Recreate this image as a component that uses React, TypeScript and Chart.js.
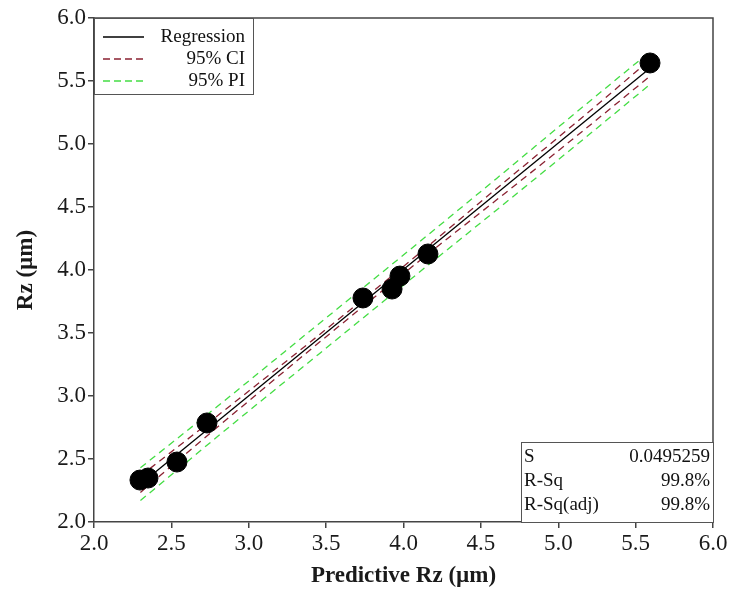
import React, { useEffect, useRef } from "react";
import { Chart, registerables } from "chart.js";

Chart.register(...registerables);

// Observed data: predictive Rz (x) vs measured Rz (y)
const predictedRz = [2.297, 2.349, 2.536, 2.73, 3.738, 3.926, 3.977, 4.158, 5.593];
const measuredRz = [2.333, 2.349, 2.476, 2.786, 3.778, 3.849, 3.952, 4.127, 5.643];

// Regression line
const fitX = [2.3, 5.6];
const fitY = [2.3, 5.61];

// Confidence and prediction bands
const bandX = [2.3, 2.8, 3.45, 4.1, 4.6, 5.1, 5.6];
const ciUpper = [2.365, 2.845, 3.48, 4.13, 4.645, 5.155, 5.675];
const ciLower = [2.235, 2.755, 3.42, 4.07, 4.555, 5.045, 5.545];
const piUpper = [2.43, 2.92, 3.57, 4.22, 4.725, 5.235, 5.74];
const piLower = [2.17, 2.68, 3.33, 3.98, 4.475, 4.975, 5.48];

// Axis ticks
const xTicks = [2.0, 2.5, 3.0, 3.5, 4.0, 4.5, 5.0, 5.5, 6.0];
const yTicks = [2.0, 2.5, 3.0, 3.5, 4.0, 4.5, 5.0, 5.5, 6.0];

// Legend and statistics
const legendLabels = ["Regression", "95% CI", "95% PI"];
const statNames = ["S", "R-Sq", "R-Sq(adj)"];
const statValues = ["0.0495259", "99.8%", "99.8%"];

const SERIF = '"Liberation Serif", "Times New Roman", serif';
const CI_COLOR = "#8b2232";
const PI_COLOR = "#44dd44";

const pts = (xs: number[], ys: number[]) => xs.map((x, i) => ({ x, y: ys[i] }));

const overlayPlugin = {
  id: "overlay",
  afterDraw(chart: any) {
    const { ctx, chartArea } = chart;
    const { left, top, right, bottom } = chartArea;
    ctx.save();
    // frame (top & right)
    ctx.strokeStyle = "#444";
    ctx.lineWidth = 1.5;
    ctx.beginPath();
    ctx.moveTo(left, top);
    ctx.lineTo(right, top);
    ctx.lineTo(right, bottom);
    ctx.stroke();

    // legend box
    const lx = left, ly = top, lw = 159, lh = 76;
    ctx.fillStyle = "#fff";
    ctx.fillRect(lx, ly, lw, lh);
    ctx.strokeStyle = "#555";
    ctx.lineWidth = 1;
    ctx.strokeRect(lx + 0.5, ly + 0.5, lw, lh);
    const colors = ["#000", CI_COLOR, PI_COLOR];
    const dashes = [[], [7, 4], [7, 4]];
    ctx.font = `19px ${SERIF}`;
    ctx.textBaseline = "middle";
    ctx.textAlign = "right";
    legendLabels.forEach((lab, i) => {
      const yy = ly + 19 + i * 22;
      ctx.strokeStyle = colors[i];
      ctx.lineWidth = 1.3;
      ctx.setLineDash(dashes[i]);
      ctx.beginPath();
      ctx.moveTo(lx + 9, yy);
      ctx.lineTo(lx + 50, yy);
      ctx.stroke();
      ctx.setLineDash([]);
      ctx.fillStyle = "#111";
      ctx.fillText(lab, lx + lw - 8, yy);
    });

    // statistics box
    const sw = 192, sh = 80;
    const sx = right - sw, sy = bottom - sh;
    ctx.fillStyle = "#fff";
    ctx.fillRect(sx, sy, sw, sh);
    ctx.strokeStyle = "#555";
    ctx.lineWidth = 1;
    ctx.strokeRect(sx + 0.5, sy + 0.5, sw, sh);
    ctx.font = `19px ${SERIF}`;
    ctx.fillStyle = "#111";
    statNames.forEach((n, i) => {
      const yy = sy + 15 + i * 24;
      ctx.textAlign = "left";
      ctx.fillText(n, sx + 3, yy);
      ctx.textAlign = "right";
      ctx.fillText(statValues[i], right - 3, yy);
    });
    ctx.restore();
  },
};

export default function App() {
  const ref = useRef<HTMLCanvasElement>(null);
  useEffect(() => {
    if (!ref.current) return;
    const chart = new Chart(ref.current, {
      type: "scatter",
      data: {
        datasets: [
          {
            label: "Observed",
            data: pts(predictedRz, measuredRz),
            backgroundColor: "#000",
            borderColor: "#000",
            pointRadius: 10,
            showLine: false,
          },
          {
            label: "Regression",
            data: pts(fitX, fitY),
            showLine: true,
            borderColor: "#000",
            borderWidth: 1.3,
            pointRadius: 0,
          },
          {
            label: "95% CI upper",
            data: pts(bandX, ciUpper),
            showLine: true,
            borderColor: CI_COLOR,
            borderWidth: 1.3,
            borderDash: [7, 5],
            pointRadius: 0,
            cubicInterpolationMode: "monotone",
          },
          {
            label: "95% CI lower",
            data: pts(bandX, ciLower),
            showLine: true,
            borderColor: CI_COLOR,
            borderWidth: 1.3,
            borderDash: [7, 5],
            pointRadius: 0,
            cubicInterpolationMode: "monotone",
          },
          {
            label: "95% PI upper",
            data: pts(bandX, piUpper),
            showLine: true,
            borderColor: PI_COLOR,
            borderWidth: 1.3,
            borderDash: [7, 5],
            pointRadius: 0,
            cubicInterpolationMode: "monotone",
          },
          {
            label: "95% PI lower",
            data: pts(bandX, piLower),
            showLine: true,
            borderColor: PI_COLOR,
            borderWidth: 1.3,
            borderDash: [7, 5],
            pointRadius: 0,
            cubicInterpolationMode: "monotone",
          },
        ],
      },
      options: {
        animation: false,
        responsive: false,
        maintainAspectRatio: false,
        layout: { padding: { left: 0, top: 18, right: 18, bottom: 0 } },
        plugins: {
          legend: { display: false },
          tooltip: { enabled: false },
        },
        scales: {
          x: {
            type: "linear",
            min: 2,
            max: 6,
            afterBuildTicks: (s: any) => {
              s.ticks = xTicks.map((v) => ({ value: v }));
            },
            afterFit: (s: any) => {
              s.height = 68;
            },
            ticks: {
              color: "#1a1a1a",
              font: { family: SERIF, size: 23 },
              padding: 2,
              callback: (v: any) => Number(v).toFixed(1),
            },
            grid: {
              drawOnChartArea: false,
              drawTicks: true,
              tickLength: 6,
              color: "#444",
              lineWidth: 1.5,
            },
            border: { display: true, color: "#444", width: 1.5 },
            title: {
              display: true,
              text: "Predictive Rz (µm)",
              color: "#1a1a1a",
              font: { family: SERIF, size: 23, weight: "bold" },
              padding: { top: 0, bottom: 0 },
            },
          },
          y: {
            type: "linear",
            min: 2,
            max: 6,
            afterBuildTicks: (s: any) => {
              s.ticks = yTicks.map((v) => ({ value: v }));
            },
            afterFit: (s: any) => {
              s.width = 94;
            },
            ticks: {
              color: "#1a1a1a",
              font: { family: SERIF, size: 23 },
              padding: 2,
              callback: (v: any) => Number(v).toFixed(1),
            },
            grid: {
              drawOnChartArea: false,
              drawTicks: true,
              tickLength: 6,
              color: "#444",
              lineWidth: 1.5,
            },
            border: { display: true, color: "#444", width: 1.5 },
            title: {
              display: true,
              text: "Rz (µm)",
              color: "#1a1a1a",
              font: { family: SERIF, size: 23, weight: "bold" },
              padding: { top: 12, bottom: 0 },
            },
          },
        },
      },
      plugins: [overlayPlugin],
    } as any);
    return () => chart.destroy();
  }, []);
  return (
    <div style={{ position: "absolute", left: 0, top: 0, width: 731, height: 590, background: "#fff" }}>
      <canvas ref={ref} width={731} height={590} style={{ width: 731, height: 590 }} />
    </div>
  );
}
